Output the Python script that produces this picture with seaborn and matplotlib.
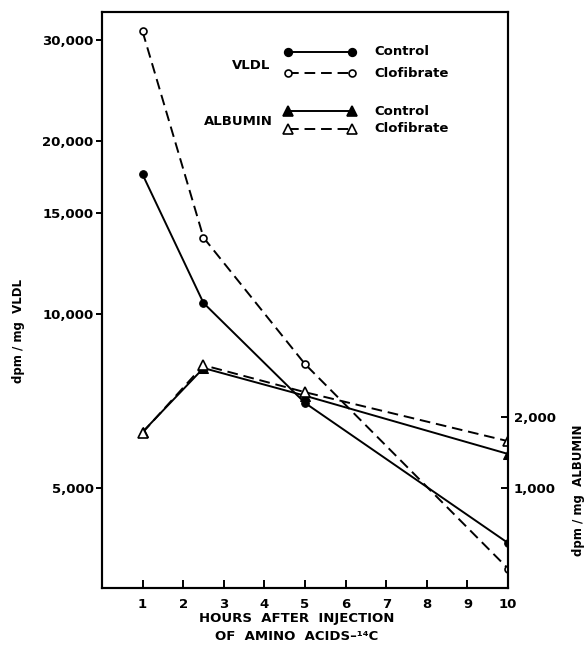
import seaborn as sns
import matplotlib.pyplot as plt
from matplotlib.ticker import FixedLocator, NullLocator

# valores
hours = [1, 2.5, 5, 10]
vldl_control = [17500, 10470, 7020, 4010]
vldl_clofibrate = [31000, 13600, 8200, 3620]
albumin_control = [1790, 2690, 2300, 1480]
albumin_clofibrate = [1780, 2730, 2350, 1660]

hour_ticks = list(range(1, 11))
vldl_ticks = [5000, 10000, 15000, 20000, 30000]
vldl_labels = ['5,000', '10,000', '15,000', '20,000', '30,000']
albumin_ticks = [1000, 2000]
albumin_labels = ['1,000', '2,000']

sns.set_style("ticks")
plt.rcParams['font.family'] = ['DejaVu Sans']
plt.rcParams['font.weight'] = 'bold'
for k in ['text.color', 'axes.labelcolor', 'xtick.color', 'ytick.color', 'axes.edgecolor']:
    plt.rcParams[k] = 'black'

fig = plt.figure(figsize=(5.86, 6.5), dpi=100)
ax = fig.add_axes([0.174, 0.0954, 0.693, 0.886])
ax2 = ax.twinx()

dashed = (0, (5.5, 3))
lw = 1.4

# VLDL, eje izquierdo logaritmico
sns.lineplot(x=hours, y=vldl_control, ax=ax, color='black', lw=lw, marker='o',
             markersize=5.5, markerfacecolor='black', markeredgecolor='black')
sns.lineplot(x=hours, y=vldl_clofibrate, ax=ax, color='black', lw=lw, linestyle=dashed,
             marker='o', markersize=5, markerfacecolor='white', markeredgecolor='black',
             markeredgewidth=1.2)

# Albumina, eje derecho
sns.lineplot(x=hours, y=albumin_control, ax=ax2, color='black', lw=lw, marker='^',
             markersize=7.5, markerfacecolor='black', markeredgecolor='black')
sns.lineplot(x=hours, y=albumin_clofibrate, ax=ax2, color='black', lw=lw, linestyle=dashed,
             marker='^', markersize=7.5, markerfacecolor='white', markeredgecolor='black',
             markeredgewidth=1.2)

ax.set_yscale('log')
ax.set_xlim(0, 10)
ax.set_ylim(3350, 33500)
ax.yaxis.set_major_locator(FixedLocator(vldl_ticks))
ax.yaxis.set_minor_locator(NullLocator())
ax.set_yticklabels(vldl_labels)
ax.set_xticks(hour_ticks)
ax.set_xticklabels([str(h) for h in hour_ticks])
ax.tick_params(axis='y', direction='out', length=4, width=1.4, pad=2, labelsize=9.5)
ax.tick_params(axis='x', direction='in', length=6, width=1.4, pad=7, labelsize=9.5)

ax2.set_ylim(-408, 7704)
ax2.set_yticks(albumin_ticks)
ax2.set_yticklabels(albumin_labels)
ax2.tick_params(axis='y', direction='in', length=5, width=1.4, pad=4, labelsize=9.5)

for a in (ax, ax2):
    for s in a.spines.values():
        s.set_linewidth(1.5)
        s.set_color('black')
        s.set_visible(True)
    a.set_xlabel('')
    a.set_ylabel('')

# leyenda dibujada a mano
tr = ax2.transAxes
keys = [
    (0.931, '-', 'o', 'black', 5.5, 'Control'),
    (0.894, dashed, 'o', 'white', 5, 'Clofibrate'),
    (0.828, '-', '^', 'black', 7.5, 'Control'),
    (0.797, dashed, '^', 'white', 7.5, 'Clofibrate'),
]
for y, ls, m, fc, ms, txt in keys:
    ax2.plot([0.458, 0.616], [y, y], transform=tr, color='black', lw=lw, linestyle=ls,
             marker=m, markersize=ms, markerfacecolor=fc, markeredgecolor='black',
             markeredgewidth=1.2, clip_on=False)
    ax2.text(0.672, y, txt, transform=tr, ha='left', va='center', fontsize=9.5,
             fontweight='bold')
ax2.text(0.414, 0.908, 'VLDL', transform=tr, ha='right', va='center', fontsize=9.5,
         fontweight='bold')
ax2.text(0.420, 0.810, 'ALBUMIN', transform=tr, ha='right', va='center', fontsize=9.5,
         fontweight='bold')

fig.text(0.032, 0.491, 'dpm / mg  VLDL', rotation=90, ha='center', va='center',
         fontsize=8.5, fontweight='bold')
fig.text(0.988, 0.246, 'dpm / mg  ALBUMIN', rotation=90, ha='center', va='center',
         fontsize=8.5, fontweight='bold')
fig.text(0.507, 0.034, 'HOURS  AFTER  INJECTION\nOF  AMINO  ACIDS–¹⁴C', ha='center',
         va='center', fontsize=9.5, fontweight='bold', linespacing=1.5)

plt.savefig('out.png', dpi=100)
